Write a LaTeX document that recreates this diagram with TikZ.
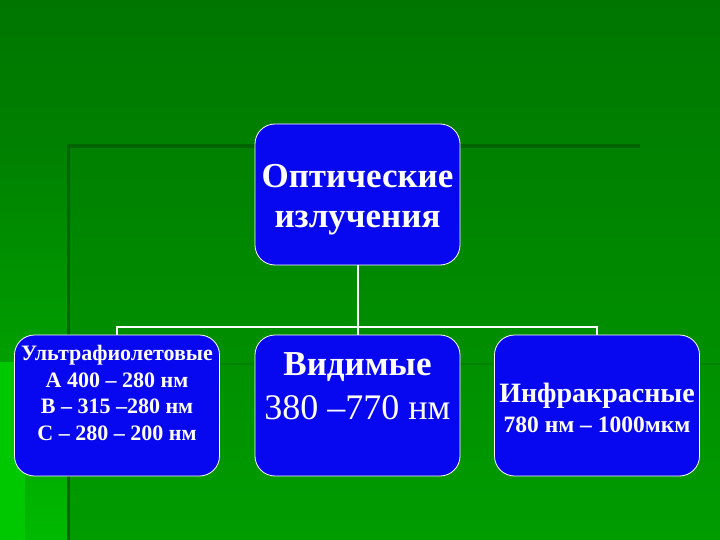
\documentclass[tikz,border=0pt]{standalone}
\usepackage{fontspec}
\setmainfont{Liberation Serif}
\definecolor{bgtop}{RGB}{0,118,0}
\definecolor{bgbot}{RGB}{0,156,0}
\definecolor{leftstart}{RGB}{0,128,0}
\definecolor{leftbot}{RGB}{0,185,0}
\definecolor{brightg}{RGB}{0,200,0}
\definecolor{frameg}{RGB}{0,100,0}
\definecolor{boxblue}{RGB}{8,8,240}
\tikzset{
  box/.style={draw=white, line width=0.8pt, fill=boxblue, rounded corners=20pt,
    minimum width=205pt, minimum height=141pt, inner sep=0pt},
  conn/.style={draw=white, line width=2pt},
  txt/.style={text=white, anchor=base, inner sep=0pt, align=center}
}
\begin{document}
\begin{tikzpicture}[x=1pt,y=-1pt]
\useasboundingbox (0,0) rectangle (720,540);
% background
\shade[top color=bgtop, bottom color=bgbot] (0,0) rectangle (720,540);
\shade[top color=leftstart, bottom color=leftbot] (0,146) rectangle (68,540);
\fill[brightg] (0,362) rectangle (25,540);
\fill[frameg, opacity=0.25] (68,363) rectangle (720,365);
\draw[frameg, line width=4pt] (68,146) -- (640,146);
\draw[frameg, line width=3pt] (68,144) -- (68,540);
% boxes
\node[box] (top) at (357.5,194.5) {};
\node[box] (uv) at (117,405.5) {};
\node[box] (vis) at (357.5,405.5) {};
\node[box] (ir) at (597,405.5) {};
\coordinate (j) at (357.5,327);
% connectors
\draw[conn] (top.south) -- (vis.north);
\draw[conn] (uv.north) |- (j) -| (ir.north);
% texts
\node[txt, font=\fontsize{35}{40}\selectfont\bfseries] (t1) at (357.5,188) {Оптические};
\node[txt, font=\fontsize{35}{40}\selectfont\bfseries] (t2) at (357.5,228) {излучения};
\node[txt, font=\fontsize{22}{24}\selectfont\bfseries] (u1) at (117,360) {Ультрафиолетовые};
\node[txt, font=\fontsize{22}{24}\selectfont\bfseries] (u2) at (117,387) {А 400 – 280 нм};
\node[txt, font=\fontsize{22}{24}\selectfont\bfseries] (u3) at (117,413) {В – 315 –280 нм};
\node[txt, font=\fontsize{22}{24}\selectfont\bfseries] (u4) at (117,440) {С – 280 – 200 нм};
\node[txt, font=\fontsize{35}{36}\selectfont\bfseries] (v1) at (357.5,375) {Видимые};
\node[txt, font=\fontsize{36}{40}\selectfont] (v2) at (357.5,419) {380 –770 нм};
\node[txt, font=\fontsize{28}{32}\selectfont\bfseries] (i1) at (597,402) {Инфракрасные};
\node[txt, font=\fontsize{23.5}{24}\selectfont\bfseries] (i2) at (597,432) {780 нм – 1000мкм};
\end{tikzpicture}
\end{document}
